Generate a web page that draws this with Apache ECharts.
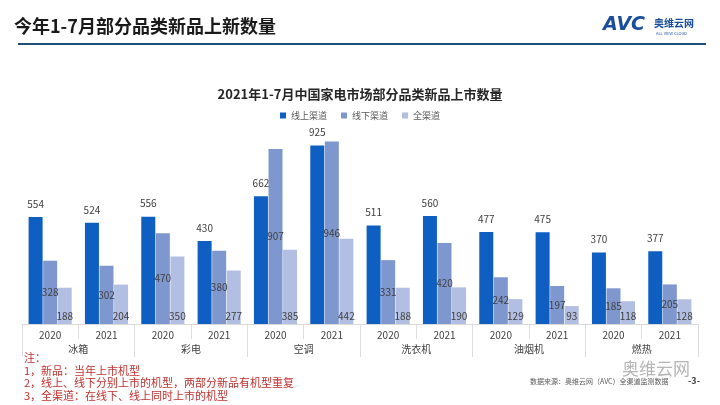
<!DOCTYPE html>
<html><head><meta charset="utf-8">
<script src="https://cdn.jsdelivr.net/npm/echarts@6/dist/echarts.min.js"></script>
<style>html,body{margin:0;padding:0;background:#fff}#c{width:720px;height:405px}</style>
</head><body><div id="c"></div>
<script>
const years = ['2020','2021','2020','2021','2020','2021','2020','2021','2020','2021','2020','2021'];
const categories = ['冰箱','彩电','空调','洗衣机','油烟机','燃热'];
const seriesNames = ['线上渠道','线下渠道','全渠道'];
const online = [554,524,556,430,662,925,511,560,477,475,370,377];
const offline = [328,302,470,380,907,946,331,420,242,197,185,205];
const allChannel = [188,204,350,277,385,442,188,190,129,93,118,128];
const notes = ['注：','1，新品：当年上市机型','2，线上、线下分别上市的机型，两部分新品有机型重复','3，全渠道：在线下、线上同时上市的机型'];

const F = '"Noto Sans CJK SC", "Noto Sans", sans-serif';
const chart = echarts.init(document.getElementById('c'));
const lbl = {color:'#404040', fontSize:10, fontFamily:F};
chart.setOption({
  animation:false,
  textStyle:{fontFamily:F},
  title:{text:'2021年1-7月中国家电市场部分品类新品上市数量', left:'center', top:83,
    textStyle:{fontSize:13, fontWeight:'bold', color:'#262626', fontFamily:F}},
  legend:{data:seriesNames, top:106, left:'center', itemWidth:6, itemHeight:6, itemGap:14,
    icon:'rect', textStyle:{fontSize:9, color:'#595959', fontFamily:F}},
  grid:{left:22, right:22, top:131, bottom:81},
  xAxis:[
    {type:'category', data:years, position:'bottom',
     axisLine:{show:true, lineStyle:{color:'#d9d9d9'}},
     axisTick:{show:true, interval:0, length:15, lineStyle:{color:'#dcdcdc'}},
     axisLabel:{color:'#404040', fontSize:10, margin:6, fontFamily:F}},
    {type:'category', data:categories, position:'bottom',
     axisLine:{show:false},
     axisTick:{show:true, interval:0, length:33, lineStyle:{color:'#dcdcdc'}},
     axisLabel:{color:'#404040', fontSize:10, margin:20, fontFamily:F}}
  ],
  yAxis:{type:'value', min:0, max:1000, show:false, splitLine:{show:false}},
  series:[
    {name:seriesNames[0], type:'bar', data:online, barWidth:14, barGap:'4%',
     itemStyle:{color:'#0f5fc2'}, label:{show:true, position:'top', distance:8, ...lbl}},
    {name:seriesNames[1], type:'bar', data:offline, barWidth:14, barGap:'4%',
     itemStyle:{color:'#7f97cf'}, label:{show:true, position:'inside', ...lbl}},
    {name:seriesNames[2], type:'bar', data:allChannel, barWidth:14, barGap:'4%',
     itemStyle:{color:'#b3bfe2'}, label:{show:true, position:'insideBottom', distance:3, ...lbl}}
  ],
  graphic:[
    {type:'text', left:14, top:17, style:{text:'今年1-7月部分品类新品上新数量', fontSize:18, fontWeight:'bold', fill:'#1a1a1a', fontFamily:F}},
    {type:'rect', shape:{x:18, y:43, width:688, height:2}, style:{fill:'#1f4e79'}},
    {type:'text', left:603, top:16, style:{text:'AVC', fontSize:19, fontWeight:'bold', fontStyle:'italic', fill:'#1a4e9c', fontFamily:'"DejaVu Sans", sans-serif'}},
    {type:'text', left:654, top:18, style:{text:'奥维云网', fontSize:10, fontWeight:'bold', fill:'#1a4e9c', fontFamily:F}},
    {type:'text', left:656, top:31, style:{text:'ALL VIEW CLOUD', fontSize:4, fill:'#1a4e9c', fontFamily:F}},
    {type:'text', left:24, top:352, style:{text:notes.join('\n'), fontSize:11, lineHeight:12.5, fill:'#c0302e', fontFamily:F}},
    {type:'text', left:622, top:360, style:{text:'奥维云网', fontSize:17, fill:'#b5b5b5', fontFamily:F}},
    {type:'text', left:530, top:378, style:{text:'数据来源：奥维云网（AVC）全渠道监测数据', fontSize:7, fill:'#595959', fontFamily:F}},
    {type:'text', left:688, top:376, style:{text:'-3-', fontSize:9, fontWeight:'bold', fill:'#404040', fontFamily:F}}
  ]
});
</script></body></html>
